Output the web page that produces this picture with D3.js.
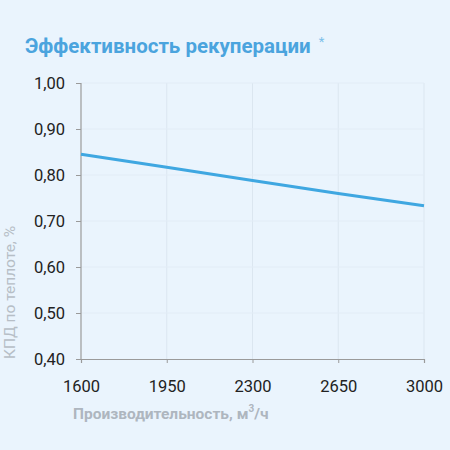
<!DOCTYPE html>
<html>
<head>
<meta charset="utf-8">
<script src="https://cdn.jsdelivr.net/npm/d3@7"></script>
<style>
  html, body { margin: 0; padding: 0; background: #eaf4fd; }
  svg { display: block; }
</style>
</head>
<body>
<div id="chart"></div>
<script>
// chart size
var w = 450;
var h = 450;
var margin = {top: 83, right: 26, bottom: 91, left: 81};

// data
var flow = [1600, 1950, 2300, 2650, 3000];
var efficiency = [0.845, 0.817, 0.788, 0.760, 0.733];
var yTicks = [0.4, 0.5, 0.6, 0.7, 0.8, 0.9, 1.0];

var title = "Эффективность рекуперации";
var xTitle = "Производительность, м";
var yTitle = "КПД по теплоте, %";

var svg = d3.select("#chart")
            .append("svg")
            .attr("width", w)
            .attr("height", h);

svg.append("rect")
   .attr("width", w).attr("height", h)
   .attr("fill", "#eaf4fd");

var xScale = d3.scaleLinear()
    .domain([1600, 3000])
    .range([margin.left, w - margin.right]);

var yScale = d3.scaleLinear()
    .domain([0.4, 1.0])
    .range([h - margin.bottom, margin.top]);

// grid
svg.append("g")
   .selectAll("line.gx")
   .data(flow.slice(1))
   .enter()
   .append("line")
   .attr("x1", function(d){ return xScale(d); })
   .attr("x2", function(d){ return xScale(d); })
   .attr("y1", yScale(1.0))
   .attr("y2", yScale(0.4))
   .attr("stroke", "#dbe6f0")
   .attr("stroke-width", 1);

svg.append("g")
   .selectAll("line.gy")
   .data(yTicks.slice(1))
   .enter()
   .append("line")
   .attr("x1", xScale(1600))
   .attr("x2", xScale(3000))
   .attr("y1", function(d){ return yScale(d); })
   .attr("y2", function(d){ return yScale(d); })
   .attr("stroke", "#e2ecf6")
   .attr("stroke-width", 1);

// axes
var xAxis = d3.axisBottom(xScale)
              .tickValues(flow)
              .tickSize(4)
              .tickPadding(17)
              .tickFormat(d3.format("d"));

var yAxis = d3.axisLeft(yScale)
              .tickValues(yTicks)
              .tickSize(5)
              .tickPadding(11)
              .tickFormat(function(d){ return d3.format(".2f")(d).replace(".", ","); });

var gx = svg.append("g")
   .attr("transform", "translate(0," + yScale(0.4) + ")")
   .call(xAxis);

var gy = svg.append("g")
   .attr("transform", "translate(" + xScale(1600) + ",0)")
   .call(yAxis);

[gx, gy].forEach(function(g){
    g.attr("font-family", "Roboto, 'Noto Sans', sans-serif")
     .attr("font-size", 16.5);
    g.select(".domain").attr("stroke", "#9a9a9a").attr("stroke-width", 1.2);
    g.selectAll(".tick line").attr("stroke", "#9a9a9a");
    g.selectAll(".tick text")
     .attr("fill", "#222");
});
gy.select(".domain").attr("d", "M0," + yScale(0.4) + "V" + yScale(1.0));

// line
var line = d3.line()
    .x(function(d, i){ return xScale(flow[i]); })
    .y(function(d){ return yScale(d); });

svg.append("path")
   .datum(efficiency)
   .attr("d", line)
   .attr("fill", "none")
   .attr("stroke", "#3fa7e1")
   .attr("stroke-width", 3);

// title
var t = svg.append("text")
   .attr("x", 25)
   .attr("y", 53)
   .style("font-family", "Roboto, sans-serif")
   .style("font-weight", "bold")
   .style("font-size", "20.5px")
   .attr("fill", "#4ba4de")
   .text(title);
t.append("tspan")
   .attr("dx", 8)
   .attr("dy", -7)
   .style("font-size", "13px")
   .style("font-weight", "normal")
   .attr("fill", "#7cc0ea")
   .text("*");

// x title
var xt = svg.append("text")
   .attr("x", 73)
   .attr("y", 419)
   .style("font-family", "Roboto, sans-serif")
   .style("font-weight", "bold")
   .style("font-size", "15.5px")
   .attr("fill", "#aeb6bf")
   .text(xTitle);
xt.append("tspan").attr("dy", -7).style("font-size", "10px").text("3");
xt.append("tspan").attr("dy", 7).text("/ч");

// y title
svg.append("text")
   .attr("transform", "translate(15," + yScale(0.4) + ") rotate(-90)")
   .attr("text-anchor", "start")
   .style("font-family", "Roboto, sans-serif")
   .style("font-size", "15.5px")
   .attr("fill", "#b6bec6")
   .text(yTitle);
</script>
</body>
</html>
